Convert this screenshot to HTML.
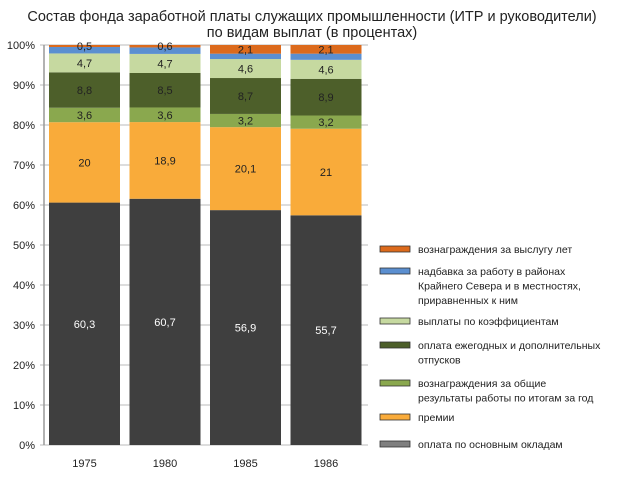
<!DOCTYPE html>
<html><head><meta charset="utf-8"><style>
body{margin:0;background:#fff;font-family:"Liberation Sans","DejaVu Sans",sans-serif;}
svg text{font-family:"Liberation Sans","DejaVu Sans",sans-serif;}
</style></head><body>
<svg id="chart" width="620" height="477" viewBox="0 0 620 477" xmlns="http://www.w3.org/2000/svg">
<text x="312" y="21" font-size="14.5" text-anchor="middle" fill="#222">Состав фонда заработной платы служащих промышленности (ИТР и руководители)</text>
<text x="312" y="37" font-size="14.5" text-anchor="middle" fill="#222">по видам выплат (в процентах)</text>
<g id="grid"></g><g id="bars"></g><g id="axis"></g><g id="legend"></g>
</svg>
<script>
const years = ["1975","1980","1985","1986"];
const base = [60.3,60.7,56.9,55.7];
const premii = [20,18.9,20.1,21];
const obshie = [3.6,3.6,3.2,3.2];
const otpusk = [8.8,8.5,8.7,8.9];
const koef = [4.7,4.7,4.6,4.6];
const sever = [1.6,1.6,1.3,1.5];
const vysluga = [0.5,0.6,2.1,2.1];
const yTicks = [0,10,20,30,40,50,60,70,80,90,100];
const seriesNames = ["оплата по основным окладам","премии","вознаграждения за общие результаты работы по итогам за год","оплата ежегодных и дополнительных отпусков","выплаты по коэффициентам","надбавка за работу в районах Крайнего Севера и в местностях, приравненных к ним","вознаграждения за выслугу лет"];

const NS="http://www.w3.org/2000/svg";
const series=[base,premii,obshie,otpusk,koef,sever,vysluga];
const colors=["#3f3f3f","#f9ab3a","#8aa84e","#4d5f2a","#c6d9a0","#5b8fd0","#dc6a1c"];
const seriesKeys=["base","premii","obshie","otpusk","koef","sever","vysluga"];
const labelShow=[true,true,true,true,true,false,true];
const labelColor=["#fff","#222","#222","#222","#222","#222","#222"];
const x0=44,y0=445,plotH=400,step=80.5,barW=71,firstX=49;
function y(v){return y0-v/100*plotH;}
function bx(i){return firstX+i*step;}
function mk(tag,attrs,parent){const e=document.createElementNS(NS,tag);for(const k in attrs)e.setAttribute(k,attrs[k]);parent.appendChild(e);return e;}
const grid=document.getElementById('grid'),bars=document.getElementById('bars'),axis=document.getElementById('axis'),legend=document.getElementById('legend');
yTicks.forEach(t=>{
  const l=mk('line',{x1:x0-4,x2:368,y1:y(t),y2:y(t),stroke:'#bbb','stroke-width':1},grid);
  
  
  const tx=mk('text',{x:x0-9,y:y(t)+4,'font-size':11,'text-anchor':'end',fill:'#222'},axis);
  tx.textContent=t+'%';
  
  
});
const ax=mk('line',{x1:x0,x2:x0,y1:y(100),y2:y0,stroke:'#999','stroke-width':1.5},axis);


years.forEach((yr,i)=>{
  let total=0;series.forEach(s=>total+=s[i]);
  let cum=0;
  series.forEach((s,k)=>{
    const v=s[i]/total*100;
    const r=mk('rect',{x:bx(i),y:y(cum+v),width:barW,height:v/100*plotH,fill:colors[k]},bars);
    
    
    if(labelShow[k]){
      const t=mk('text',{x:bx(i)+barW/2,y:y(cum+v/2)+4,'font-size':11,'text-anchor':'middle',fill:labelColor[k]},bars);
      t.textContent=String(s[i]).replace('.',',');
      
      
    }
    cum+=v;
  });
  const tl=mk('text',{x:bx(i)+barW/2,y:467,'font-size':11,'text-anchor':'middle',fill:'#222'},axis);
  tl.textContent=yr;
  
  
});
const legY=[249,271,383,345,321,271,249];
const legendRows=[
 {k:6,y:249,lines:["вознаграждения за выслугу лет"]},
 {k:5,y:271,lines:["надбавка за работу в районах","Крайнего Севера и в местностях,","приравненных к ним"]},
 {k:4,y:321,lines:["выплаты по коэффициентам"]},
 {k:3,y:345,lines:["оплата ежегодных и дополнительных","отпусков"]},
 {k:2,y:383,lines:["вознаграждения за общие","результаты работы по итогам за год"]},
 {k:1,y:417,lines:["премии"]},
 {k:0,y:444,lines:["оплата по основным окладам"]}
];
legendRows.forEach(r=>{
  const g=mk('g',{},legend);
  
  
  mk('rect',{x:380,y:r.y-3,width:30,height:6,fill:r.k===0?'#7f7f7f':colors[r.k],stroke:'#333','stroke-width':0.8},g);
  r.lines.forEach((ln,j)=>{
    const t=mk('text',{x:418,y:r.y+4+j*14.5,'font-size':10.5,fill:'#222'},g);
    t.textContent=ln;
  });
});
</script>
</body></html>
